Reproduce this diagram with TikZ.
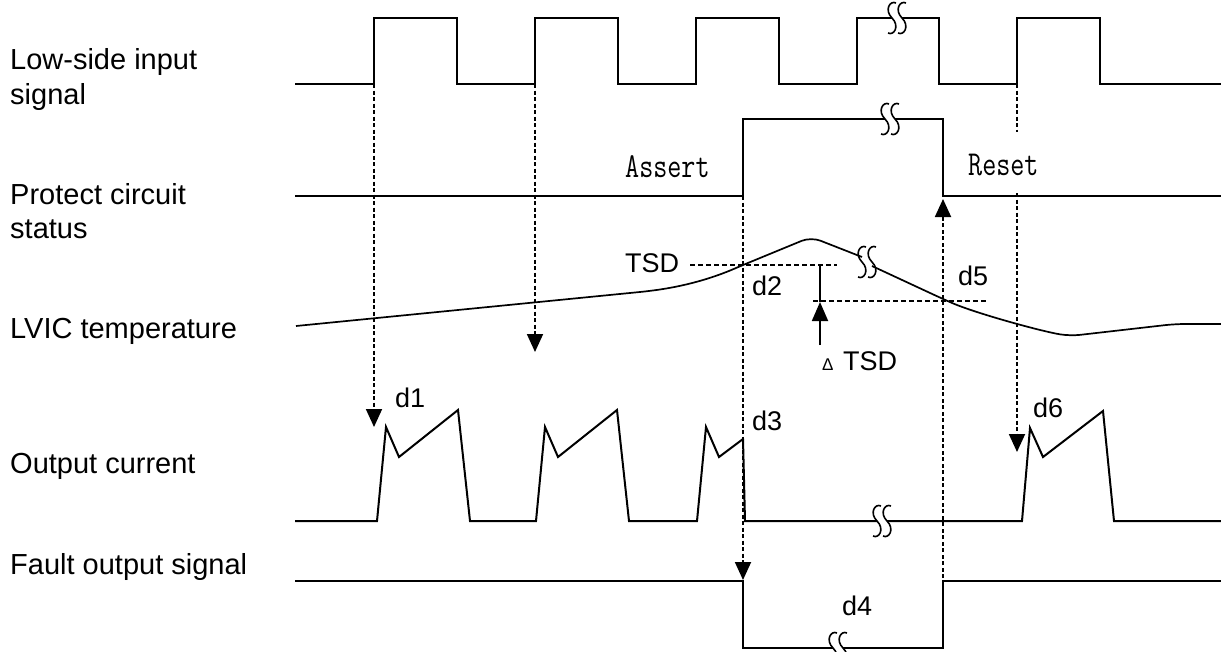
\documentclass[tikz,border=0pt]{standalone}
\usepackage{fontspec}
\setmainfont{Liberation Sans}
\usepackage{graphicx}
\usetikzlibrary{arrows.meta}
\tikzset{
  sig/.style={line width=2.4pt, line join=miter},
  cur/.style={line width=2pt, line join=miter},
  temp/.style={line width=1.7pt, line join=round},
  dsh/.style={line width=1.8pt, dash pattern=on 4pt off 2.5pt},
  hdsh/.style={line width=1.8pt, dash pattern=on 5pt off 3pt},
  tipd/.style={-{Triangle[width=16pt,length=18pt]}},
  lbl/.style={anchor=base west, inner sep=0pt, font=\fontsize{29}{34}\selectfont},
  sm/.style={anchor=base west, inner sep=0pt, font=\fontsize{27}{30}\selectfont},
  mono/.style={anchor=base west, inner sep=0pt, font=\fontsize{35}{36}\selectfont\ttfamily},
  brk/.pic={
    \draw[line width=1.6pt] (-1,-15) .. controls (-7,-18) and (-13,-8) .. (-5,0)
       .. controls (3,8) and (-3,18) .. (-9,15);
    \draw[line width=1.6pt] (9,-15) .. controls (3,-18) and (-3,-8) .. (5,0)
       .. controls (13,8) and (7,18) .. (1,15);
  }
}
\begin{document}
\begin{tikzpicture}[x=1pt,y=-1pt]
\useasboundingbox (0,0) rectangle (1221,651);
\begin{scope}
\clip (0,0) rectangle (1221,651);
% ---------- labels ----------
\node[lbl] (l1) at (10,69) {Low-side input};
\node[lbl] (l1b) at (10,104) {signal};
\node[lbl] (l2) at (10,204) {Protect circuit};
\node[lbl] (l2b) at (10,238) {status};
\node[lbl] (l3) at (10,338) {LVIC temperature};
\node[lbl] (l4) at (10,473) {Output current};
\node[lbl] (l5) at (10,574) {Fault output signal};

% ---------- dashed guide lines ----------
\draw[dsh,tipd] (374,84) -- (374,427);
\draw[dsh,tipd] (535,84) -- (535,352);
\draw[dsh,tipd] (743,196) -- (743,580);
\draw[dsh,tipd] (943,578) -- (943,199);
\draw[dsh] (1017,84) -- (1017,132);
\draw[dsh,tipd] (1017,193) -- (1017,452);
\draw[hdsh] (690,265) -- (837,265);
\draw[hdsh] (813,301) -- (988,301);

% ---------- Low-side input signal ----------
\draw[sig] (295,84) -- (374,84) -- (374,18) -- (457,18) -- (457,84) -- (535,84)
  -- (535,18) -- (618,18) -- (618,84) -- (696,84) -- (696,18) -- (779,18)
  -- (779,84) -- (857,84) -- (857,18) -- (892,18);
\draw[sig] (902,18) -- (939,18) -- (939,84) -- (1017,84) -- (1017,18) -- (1100,18)
  -- (1100,84) -- (1221,84);
\pic at (897,18) {brk};

% ---------- Protect circuit status ----------
\draw[sig] (295,196) -- (743,196) -- (743,119) -- (885,119);
\draw[sig] (895,119) -- (943,119) -- (943,196) -- (1221,196);
\pic at (890,119) {brk};
\node[mono] (assert) at (625,177) {\scalebox{0.78}[1]{Assert}};
\node[mono] (reset) at (968,175) {\scalebox{0.78}[1]{Reset}};

% ---------- LVIC temperature ----------
\draw[temp, rounded corners=10pt] (296,326) -- (650,291) .. controls (690,285) and (715,277) .. (743,265)
  -- (811,237) -- (862,257);
\draw[temp, rounded corners=10pt] (872,266) -- (943,299) .. controls (975,313) and (1040,331) .. (1070,336)
  -- (1175,324) -- (1221,324);
\pic at (867,262) {brk};
\node[sm] (tsd) at (625,272) {TSD};
\node[sm] (d2) at (752,295) {d2};
\node[sm] (d5) at (958,285) {d5};
\draw[line width=1.8pt] (820,265) -- (820,302);
\draw[line width=1.8pt,-{Triangle[width=16pt,length=19pt]}] (820,345) -- (820,302);
\node[anchor=base west, inner sep=0pt, font=\fontsize{17}{20}\selectfont] (delta) at (822,370) {Δ};
\node[sm] (dtsd) at (843,370) {TSD};

% ---------- Output current ----------
\draw[cur] (295,521) -- (377,521) -- (386,427) -- (399,457) -- (458,410) -- (470,521)
  -- (536,521) -- (545,427) -- (558,457) -- (617,410) -- (629,521)
  -- (697,521) -- (706,427) -- (719,457) -- (743,439) -- (745,521) -- (877,521);
\draw[cur] (887,521) -- (1022,521) -- (1030,428) -- (1043,457) -- (1103,411)
  -- (1114,521) -- (1221,521);
\pic at (882,521) {brk};
\node[sm] (d1) at (395,407) {d1};
\node[sm] (d3) at (752,430) {d3};
\node[sm] (d6) at (1033,417) {d6};

% ---------- Fault output signal ----------
\draw[sig] (295,581) -- (743,581) -- (743,648) -- (833,648);
\draw[sig] (843,648) -- (943,648) -- (943,581) -- (1221,581);
\pic at (838,648) {brk};
\node[sm] (d4) at (842,615) {d4};
\end{scope}
\end{tikzpicture}
\end{document}
